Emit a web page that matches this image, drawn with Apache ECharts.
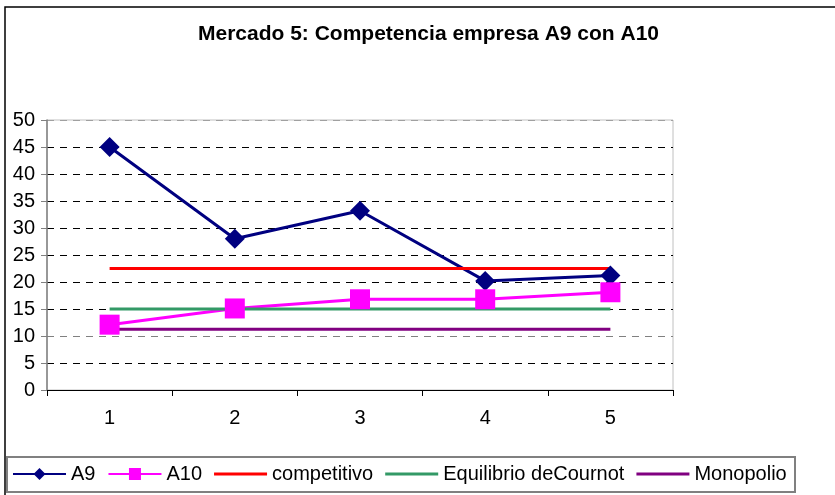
<!DOCTYPE html>
<html>
<head>
<meta charset="utf-8">
<title>Mercado 5</title>
<script src="https://cdn.jsdelivr.net/npm/echarts@6/dist/echarts.min.js"></script>
<style>
  html, body { margin: 0; padding: 0; background: #fff; }
  #chart { width: 835px; height: 495px; }
</style>
</head>
<body>
<div id="chart"></div>
<script>
// datos
var categories = ['1', '2', '3', '4', '5'];
var a9 = [45, 28, 33.2, 20.2, 21.2];
var a10 = [12.1, 15.1, 16.8, 16.8, 18.1];
var competitivo = [22.5, 22.5, 22.5, 22.5, 22.5];
var cournot = [15, 15, 15, 15, 15];
var monopolio = [11.25, 11.25, 11.25, 11.25, 11.25];
var yTicks = [0, 5, 10, 15, 20, 25, 30, 35, 40, 45, 50];

var font = 'Liberation Sans, Arial, sans-serif';
// icono de leyenda: solo una linea (los puntitos de las esquinas fijan la caja)
var lineIcon = 'path://M0,0h0.05v0.05h-0.05z M0,6h53v3h-53z M52.95,14.95h0.05v0.05h-0.05z';

function lineSeries(name, data, color, symbol) {
  return {
    name: name,
    type: 'line',
    data: data,
    symbol: symbol || 'none',
    symbolSize: 20,
    showSymbol: !!symbol,
    lineStyle: { color: color, width: 3 },
    itemStyle: { color: color },
    emphasis: { disabled: true },
    animation: false
  };
}

var chart = echarts.init(document.getElementById('chart'), null, { renderer: 'canvas' });

var option = {
  backgroundColor: '#fff',
  animation: false,
  graphic: [
    { // marco exterior
      type: 'rect', silent: true, z: -1,
      shape: { x: 5, y: 7, width: 900, height: 600 },
      style: { fill: 'none', stroke: '#000', lineWidth: 1.5 }
    },
    { // caja de la leyenda
      type: 'rect', silent: true,
      shape: { x: 7, y: 457, width: 788, height: 35 },
      style: { fill: '#fff', stroke: '#808080', lineWidth: 2 }
    },
    {
      type: 'text', silent: true,
      style: {
        x: 428.5, y: 34, text: 'Mercado 5: Competencia empresa A9 con A10',
        textAlign: 'center', textVerticalAlign: 'middle',
        font: 'bold 21px ' + font, fill: '#000'
      }
    }
  ],
  grid: {
    left: 47, right: 162, top: 120, bottom: 105,
    show: true, borderColor: '#c0c0c0', borderWidth: 1,
    outerBoundsMode: 'none'
  },
  legend: {
    left: 12, top: 464, padding: 0,
    itemWidth: 53, itemHeight: 15, itemGap: 12,
    textStyle: { fontSize: 20, fontFamily: font, color: '#000' },
    data: [
      'A9',
      'A10',
      { name: 'competitivo', icon: lineIcon },
      { name: 'Equilibrio deCournot', icon: lineIcon },
      { name: 'Monopolio', icon: lineIcon }
    ],
    selectedMode: false, z: 10
  },
  xAxis: {
    type: 'category',
    data: categories,
    boundaryGap: true,
    axisLine: { lineStyle: { color: '#000', width: 1 } },
    axisTick: { show: true, length: 6, lineStyle: { color: '#000' } },
    axisLabel: { margin: 18, fontSize: 20, fontFamily: font, color: '#000' },
    splitLine: { show: false }
  },
  yAxis: {
    type: 'value',
    min: yTicks[0], max: yTicks[yTicks.length - 1], interval: 5,
    axisLine: { show: true, lineStyle: { color: '#808080', width: 1.5 } },
    axisTick: { show: true, length: 6, lineStyle: { color: '#808080' } },
    axisLabel: { margin: 12, fontSize: 20, fontFamily: font, color: '#000' },
    splitLine: {
      show: true,
      lineStyle: {
        type: [7, 6], width: 1,
        color: ['#000', '#000', '#808080', '#000', '#000', '#000', '#000', '#000', '#000', '#000', '#a0a0a0']
      }
    }
  },
  series: [
    lineSeries('A9', a9, '#000080', 'diamond'),
    lineSeries('A10', a10, '#ff00ff', 'rect'),
    lineSeries('competitivo', competitivo, '#ff0000'),
    lineSeries('Equilibrio deCournot', cournot, '#339966'),
    lineSeries('Monopolio', monopolio, '#800080')
  ]
};

chart.setOption(option);
</script>
</body>
</html>
